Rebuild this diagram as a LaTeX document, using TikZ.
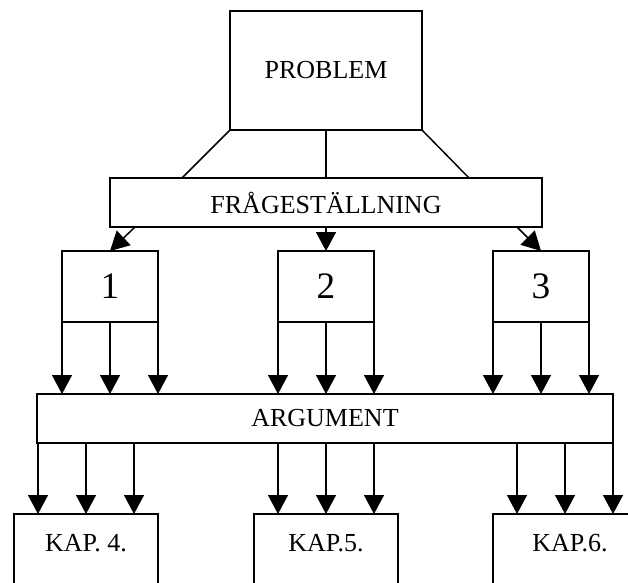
\documentclass[tikz,border=0pt]{standalone}
\usepackage{fontspec}
\setmainfont{Liberation Serif}
\usetikzlibrary{arrows.meta}
\begin{document}
\begin{tikzpicture}[x=0.75pt,y=-0.75pt,
  box/.style={draw,line width=1.1pt,inner sep=0pt,outer sep=0pt,font=\fontsize{19.5}{22}\selectfont},
  numbox/.style={box,font=\fontsize{28}{32}\selectfont},
  lbl/.style={inner sep=0pt,font=\fontsize{19.5}{22}\selectfont},
  ln/.style={line width=1.1pt},
  arr/.style={line width=1.1pt,-{Triangle[length=14.25pt,width=15pt]}}]
\useasboundingbox (0,0) rectangle (628,582);
\clip (0,0) rectangle (628,582);
% boxes
\node[box,minimum width=144pt,minimum height=89.25pt] (prob) at (326,70.5) {PROBLEM};
\node[box,minimum width=324pt,minimum height=36.75pt] (frag) at (326,202.5) {FRÅGESTÄLLNING};
\node[numbox,minimum width=72pt,minimum height=53.25pt] (b1) at (110,286.5) {1};
\node[numbox,minimum width=72pt,minimum height=53.25pt] (b2) at (326,286.5) {2};
\node[numbox,minimum width=72pt,minimum height=53.25pt] (b3) at (541,286.5) {3};
\node[box,minimum width=432pt,minimum height=36.75pt] (arg) at (325,418.5) {ARGUMENT};
\node[box,anchor=north,minimum width=108pt,minimum height=75pt] (k4) at (86,514) {};
\node[box,anchor=north,minimum width=108pt,minimum height=75pt] (k5) at (326,514) {};
\node[box,anchor=north,minimum width=115.5pt,minimum height=75pt] (k6) at (570,514) {};
\node[lbl] (k4t) at (86,543) {KAP. 4.};
\node[lbl] (k5t) at (326,543) {KAP.5.};
\node[lbl] (k6t) at (570,543) {KAP.6.};
% problem to fragestallning
\coordinate (f1) at (182,178);
\coordinate (f3) at (469,178);
\draw[ln] (prob.south west) -- (f1);
\draw[ln] (prob.south) -- (frag.north);
\draw[ln] (prob.south east) -- (f3);
% fragestallning to 1,2,3
\coordinate (g1) at (135,227);
\coordinate (g3) at (517,227);
\draw[arr] (g1) -- (b1.north);
\draw[arr] (frag.south) -- (b2.north);
\draw[arr] (g3) -- (b3.north);
% 1,2,3 to argument
\foreach \b in {b1,b2,b3}{
  \draw[arr] (\b.south west) -- (\b.south west |- arg.north);
  \draw[arr] (\b.south) -- (\b.south |- arg.north);
  \draw[arr] (\b.south east) -- (\b.south east |- arg.north);
}
% argument to chapters
\foreach \x/\k in {38/k4,86/k4,134/k4,278/k5,326/k5,374/k5,517/k6,565/k6,613/k6}{
  \coordinate (c\x) at (\x,443);
  \draw[arr] (c\x) -- (c\x |- \k.north);
}
\end{tikzpicture}
\end{document}
